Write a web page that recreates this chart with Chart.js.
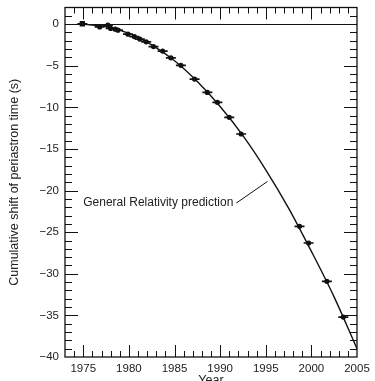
<!DOCTYPE html>
<html>
<head>
<meta charset="utf-8">
<script src="https://cdn.jsdelivr.net/npm/chart.js"></script>
<style>
    html, body { margin: 0; padding: 0; background: #fff; overflow: hidden; }
    #box { width: 375px; height: 388px; }
</style>
</head>
<body>
<div id="box"><canvas id="GraficoPeriastro"></canvas></div>
<script>
// measured points (year, cumulative shift in s)
let anos = [1974.9, 1976.8, 1977.7, 1978.0, 1978.5, 1978.8, 1979.9, 1980.6, 1981.2, 1981.9, 1982.7, 1983.7,
    1984.6, 1985.7, 1987.2, 1988.6, 1989.7, 1991.0, 1992.3, 1998.7, 1999.7, 2001.7, 2003.5];
let deslocamentos = [0.05, -0.33, -0.13, -0.52, -0.6, -0.72, -1.2, -1.49, -1.8, -2.12, -2.69, -3.24,
    -4.05, -4.95, -6.6, -8.2, -9.4, -11.2, -13.2, -24.3, -26.3, -30.9, -35.2];

// General Relativity prediction curve
let anosGR = [1974.8, 1977.5, 1980, 1982.5, 1985, 1987.5, 1990, 1992.5, 1995, 1997.5, 2000, 2002.5, 2005];
let deslocGR = [0, -0.3, -1.1, -2.5, -4.4, -6.9, -9.9, -13.4, -17.5, -22.1, -27.3, -32.8, -39.0];

// labelled ticks
let anosMarcados = [1975, 1980, 1985, 1990, 1995, 2000, 2005];
let valoresMarcados = [0, -5, -10, -15, -20, -25, -30, -35, -40];

let pontos = anos.map(function (a, i) { return { x: a, y: deslocamentos[i] }; });
let curva = anosGR.map(function (a, i) { return { x: a, y: deslocGR[i] }; });

let fonte = 'Liberation Sans, Arial, sans-serif';

// frame, inward ticks, zero line and the label
let moldura = {
    id: 'moldura',
    afterDraw: function (chart) {
        let ctx = chart.ctx;
        let a = chart.chartArea;
        let x = chart.scales.x;
        let y = chart.scales.y;
        ctx.save();
        ctx.strokeStyle = '#111';
        ctx.lineWidth = 1;

        let y0 = Math.round(y.getPixelForValue(0)) + 0.5;
        ctx.beginPath();
        ctx.moveTo(a.left, y0);
        ctx.lineTo(a.right, y0);
        ctx.stroke();

        ctx.beginPath();
        for (let v = x.min + 1; v < x.max; v++) {
            let px = Math.round(x.getPixelForValue(v)) + 0.5;
            let len = v % 5 === 0 ? 12 : 6;
            ctx.moveTo(px, a.bottom); ctx.lineTo(px, a.bottom - len);
            ctx.moveTo(px, a.top); ctx.lineTo(px, a.top + len);
        }
        for (let v = y.min + 1; v < y.max; v++) {
            let py = Math.round(y.getPixelForValue(v)) + 0.5;
            let len = v % 5 === 0 ? 13 : 7;
            ctx.moveTo(a.left, py); ctx.lineTo(a.left + len, py);
            ctx.moveTo(a.right, py); ctx.lineTo(a.right - len, py);
        }
        ctx.stroke();

        ctx.lineWidth = 1.3;
        ctx.strokeRect(a.left, a.top, a.right - a.left, a.bottom - a.top);

        // label with leader line
        let texto = 'General Relativity prediction';
        ctx.font = '12px ' + fonte;
        ctx.fillStyle = '#222';
        ctx.textBaseline = 'middle';
        let tx = x.getPixelForValue(1975.0);
        let ty = y.getPixelForValue(-21.5);
        ctx.fillText(texto, tx, ty);
        let fim = tx + ctx.measureText(texto).width + 3;
        ctx.lineWidth = 1;
        ctx.beginPath();
        ctx.moveTo(fim, ty);
        ctx.lineTo(x.getPixelForValue(1995.2), y.getPixelForValue(-18.9));
        ctx.stroke();
        ctx.restore();
    }
};

var ctx = document.getElementById('GraficoPeriastro').getContext('2d');

var grafico = new Chart(ctx, {
    type: 'scatter',
    data: {
        datasets: [{
            label: 'GR',
            data: curva,
            showLine: true,
            borderColor: '#111',
            borderWidth: 1.4,
            pointRadius: 0,
            cubicInterpolationMode: 'monotone'
        }, {
            label: 'barras',
            data: pontos,
            pointStyle: 'line',
            pointRadius: 5,
            borderColor: '#111',
            borderWidth: 1.7,
            showLine: false
        }, {
            label: 'pontos',
            data: pontos,
            pointStyle: function (c) { return c.dataIndex === 0 ? 'rect' : 'circle'; },
            pointRadius: function (c) { return c.dataIndex === 0 ? 3.8 : 2.6; },
            backgroundColor: '#111',
            borderColor: '#111',
            borderWidth: 0,
            showLine: false
        }]
    },
    options: {
        responsive: true,
        maintainAspectRatio: false,
        animation: false,
        layout: { padding: { left: 0, right: 18, top: 7.5, bottom: 0 } },
        plugins: {
            legend: { display: false },
            tooltip: { enabled: false }
        },
        scales: {
            x: {
                type: 'linear',
                min: 1973,
                max: 2005,
                grid: { display: false, drawTicks: false },
                border: { display: false },
                ticks: {
                    stepSize: 1,
                    autoSkip: false,
                    maxRotation: 0,
                    padding: 5,
                    color: '#222',
                    font: { family: fonte, size: 11.5 },
                    callback: function (v) { return anosMarcados.includes(v) ? String(v) : ''; }
                },
                title: {
                    display: true,
                    text: 'Year',
                    color: '#222',
                    padding: { top: 0, bottom: 0 },
                    font: { family: fonte, size: 12.5 }
                },
                afterFit: function (s) { s.height = 31; s.paddingLeft = 0; s.paddingRight = 0; }
            },
            y: {
                min: -40,
                max: 2,
                grid: { display: false, drawTicks: false },
                border: { display: false },
                ticks: {
                    stepSize: 1,
                    autoSkip: false,
                    padding: 6,
                    color: '#222',
                    font: { family: fonte, size: 11.5 },
                    callback: function (v) {
                        return valoresMarcados.includes(v) ? String(v).replace('-', '\u2212') : '';
                    }
                },
                title: {
                    display: true,
                    text: 'Cumulative shift of periastron time (s)',
                    color: '#222',
                    padding: { top: 7.5, bottom: 0 },
                    font: { family: fonte, size: 12.5 }
                },
                afterFit: function (s) { s.width = 65; s.paddingTop = 0; s.paddingBottom = 0; }
            }
        }
    },
    plugins: [moldura]
});
</script>
</body>
</html>
